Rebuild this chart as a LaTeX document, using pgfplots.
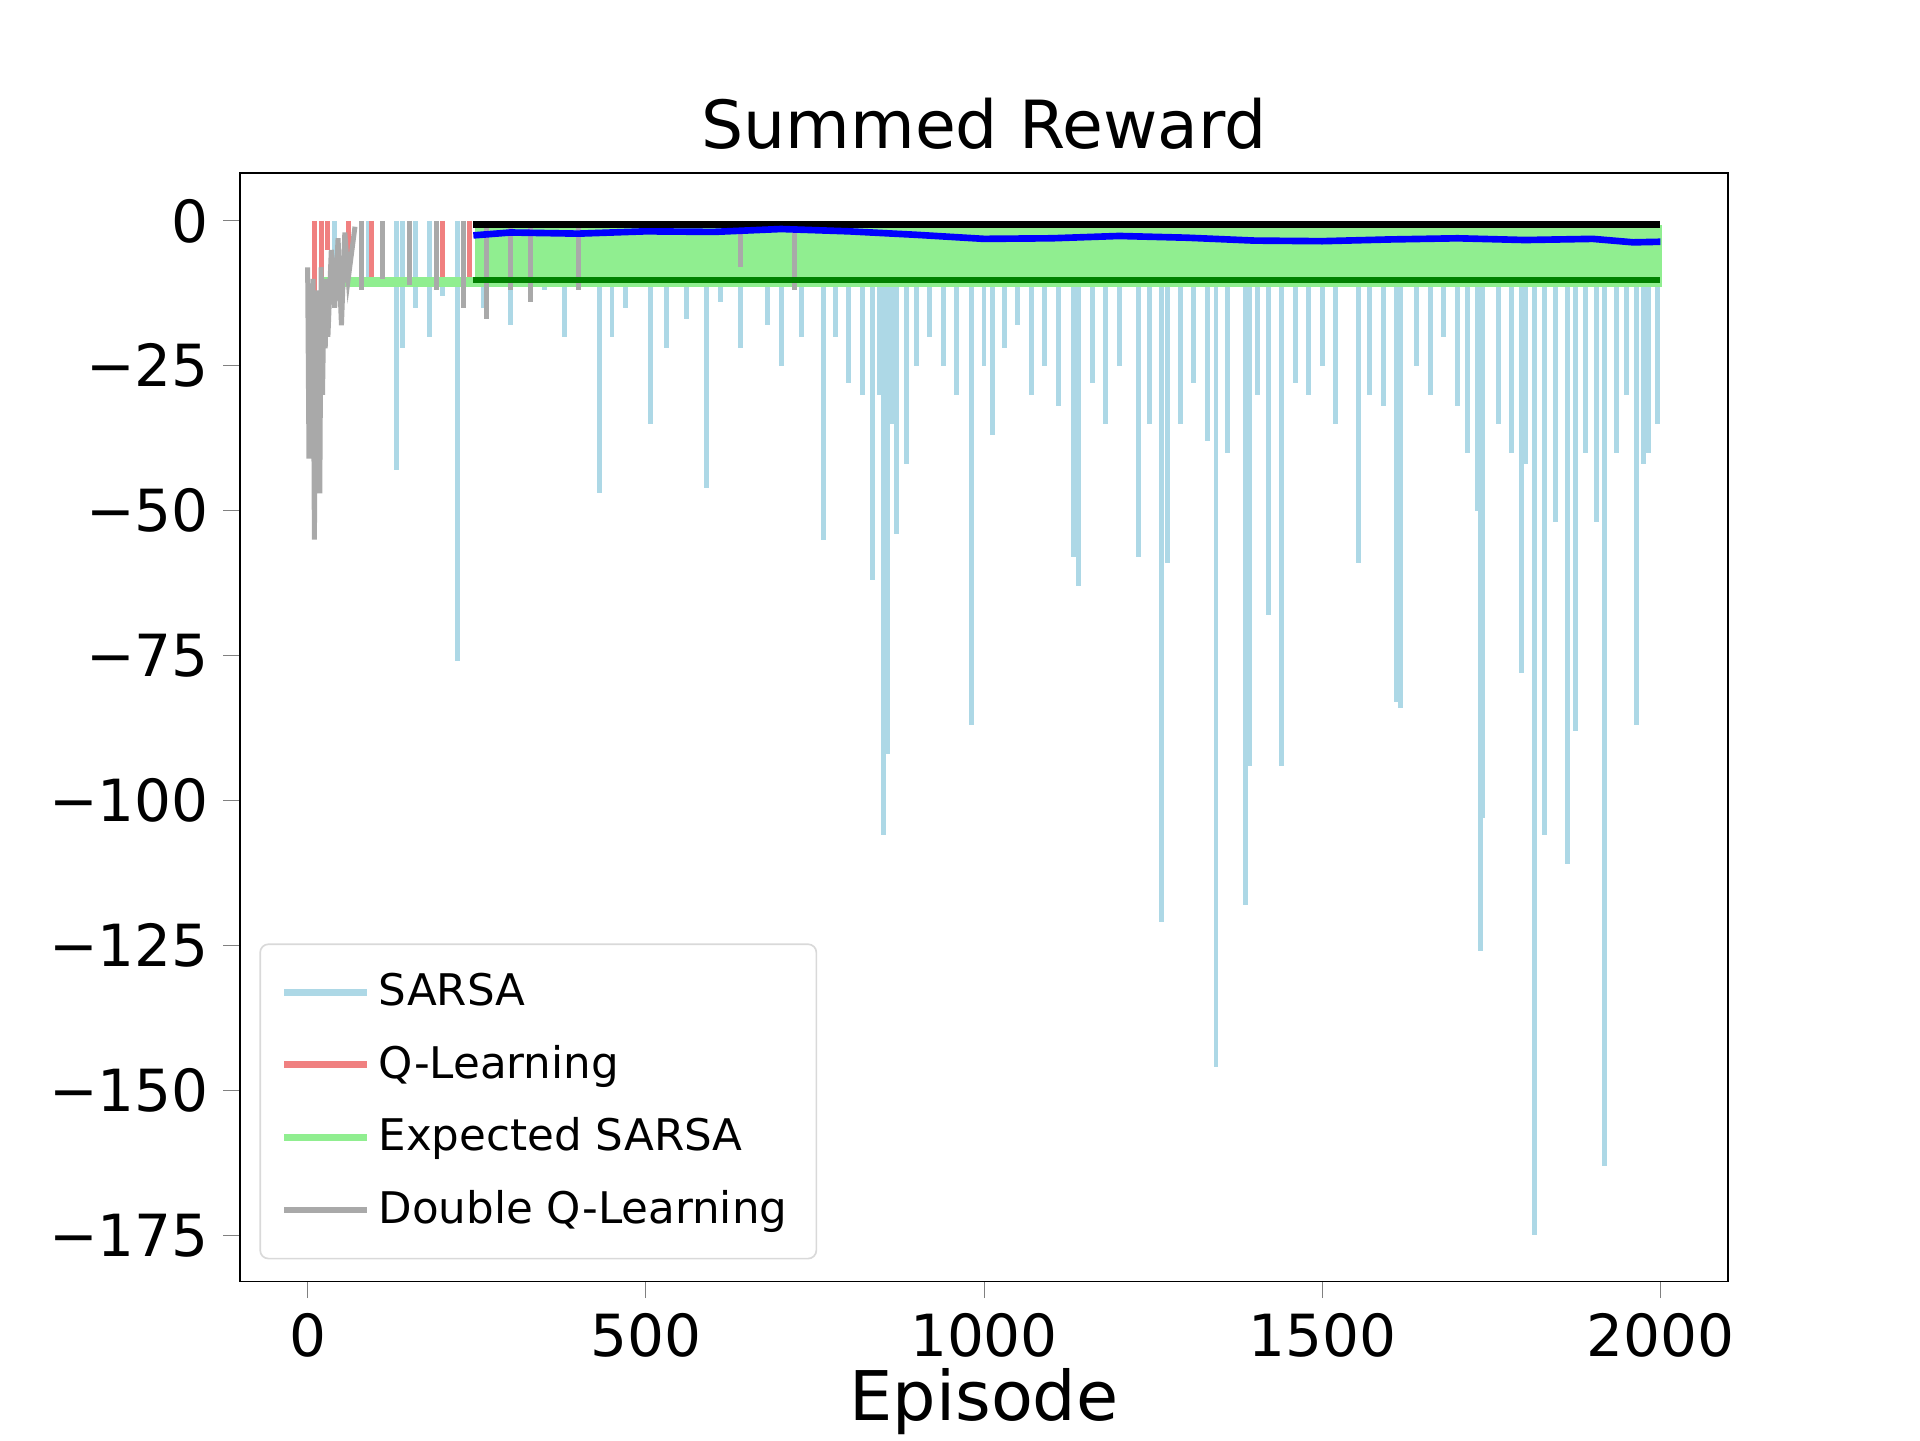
\documentclass[border=0pt]{standalone}
\usepackage{pgfplots}
\pgfplotsset{compat=1.18}
\usepackage{fontspec}
\setmainfont{DejaVu Sans}
\definecolor{lb}{RGB}{173,216,230}
\definecolor{lc}{RGB}{240,128,128}
\definecolor{lg}{RGB}{144,238,144}
\definecolor{dg}{RGB}{169,169,169}
\definecolor{gr}{RGB}{0,128,0}
\begin{document}
\begin{tikzpicture}
\begin{axis}[at={(0,0)},anchor=south west,scale only axis,
 width=4.96in,height=3.696in,
 xmin=-100,xmax=2100,ymin=-183,ymax=8.3,
 xtick={0,500,1000,1500,2000},xticklabels={0,500,1000,1500,2000},
 ytick={-175,-150,-125,-100,-75,-50,-25,0},
 yticklabels={−175,−150,−125,−100,−75,−50,−25,0},
 tick label style={font=\fontsize{14}{16}\selectfont},
 xtick pos=bottom,ytick pos=left,
 title={Summed Reward},title style={font=\fontsize{16}{18}\selectfont,yshift=-4pt},
 xlabel={Episode},ylabel={Reward},
 label style={font=\fontsize{16.5}{18}\selectfont},
 ylabel style={yshift=6pt},xlabel style={yshift=4pt},
 tick align=outside,major tick length=4pt,
 legend style={font=\fontsize{10.5}{12}\selectfont,draw=black!15,rounded corners=2pt,row sep=4pt,inner sep=5pt,at={(0.013,0.02)},anchor=south west},
 legend cell align=left,
 legend image code/.code={\draw[#1,line width=1.6pt](0cm,0cm)--(0.7cm,0cm);},
]
% SARSA
\addplot[lb,line width=1.2pt,ycomb] coordinates {
(20,-18)(40,-12)(60,-8)(90,-10)(132,-43)(140,-22)(160,-15)(180,-20)(200,-13)(221,-76)(260,-15)(300,-18)(350,-12)(380,-20)(431,-47)(450,-20)(470,-15)(507,-35)(530,-22)(560,-17)(590,-46)(610,-14)(640,-22)(680,-18)(700,-25)(730,-20)(762,-55)(780,-20)(800,-28)(820,-30)(835,-62)(845,-30)(851,-106)(857,-92)(864,-35)(871,-54)(886,-42)(900,-25)(920,-20)(940,-25)(960,-30)(981,-87)(1000,-25)(1012,-37)(1030,-22)(1050,-18)(1070,-30)(1090,-25)(1110,-32)(1133,-58)(1139,-63)(1160,-28)(1180,-35)(1200,-25)(1229,-58)(1245,-35)(1263,-121)(1272,-59)(1290,-35)(1310,-28)(1330,-38)(1343,-146)(1360,-40)(1386,-118)(1392,-94)(1405,-30)(1420,-68)(1440,-94)(1460,-28)(1480,-30)(1500,-25)(1520,-35)(1553,-59)(1570,-30)(1590,-32)(1610,-83)(1616,-84)(1640,-25)(1660,-30)(1680,-20)(1700,-32)(1715,-40)(1730,-50)(1734,-126)(1737,-103)(1760,-35)(1780,-40)(1794,-78)(1800,-42)(1814,-175)(1829,-106)(1845,-52)(1863,-111)(1874,-88)(1890,-40)(1905,-52)(1918,-163)(1935,-40)(1950,-30)(1965,-87)(1975,-42)(1983,-40)(1996,-35)};
\addlegendentry{SARSA}
% Q-Learning
\addplot[lc,line width=1.2pt,ycomb] coordinates {
(10,-15)(20,-10)(30,-5)(60,-11)(95,-11)(150,-11)(200,-11)(240,-11)(300,-11)(370,-11)(410,-11)(460,-11)(510,-11)(640,-11)(690,-11)(790,-11)(880,-11)(1050,-11)(1100,-11)(1130,-11)(1150,-11)(1170,-11)(1180,-11)(1200,-11)(1300,-11)(1500,-11)(1700,-11)(1900,-11)};
\addlegendentry{Q-Learning}
% Expected SARSA
\addplot[lg,fill=lg,line width=1pt] coordinates {(20,-10)(250,-10)(250,-1)(2000,-1)(2000,-11)(20,-11)} -- cycle;
\addlegendentry{Expected SARSA}
% Double Q
\addplot[dg,line width=1.2pt] coordinates {
(0,-8)(2,-41)(4,-15)(6,-30)(8,-10)(10,-55)(12,-20)(14,-45)(16,-12)(18,-47)(20,-8)(22,-30)(24,-15)(26,-22)(28,-10)(30,-20)(35,-5)(40,-15)(45,-3)(50,-18)(55,-2)(60,-10)(70,-1)};
\addlegendentry{Double Q-Learning}
\addplot[dg,line width=1.2pt,ycomb,forget plot] coordinates {
(80,-12)(110,-10)(150,-11)(190,-12)(230,-15)(265,-17)(300,-12)(330,-14)(400,-12)(640,-8)(720,-12)};
\addplot[black,line width=1.6pt] coordinates {(245,-0.6)(2000,-0.6)};
\addplot[gr,line width=1.6pt] coordinates {(245,-10.2)(2000,-10.2)};
\addplot[blue,line width=1.6pt] coordinates {(245,-2.5)(300,-2)(400,-2.2)(500,-1.8)(600,-1.9)(700,-1.4)(800,-1.8)(900,-2.4)(1000,-3.1)(1100,-3)(1200,-2.6)(1300,-2.9)(1400,-3.4)(1500,-3.5)(1600,-3.2)(1700,-3)(1800,-3.3)(1900,-3.1)(1960,-3.7)(2000,-3.6)};
\end{axis}
\pgfresetboundingbox
\path[use as bounding box](-0.8in,-0.528in) rectangle (5.6in,4.272in);
\end{tikzpicture}
\end{document}
